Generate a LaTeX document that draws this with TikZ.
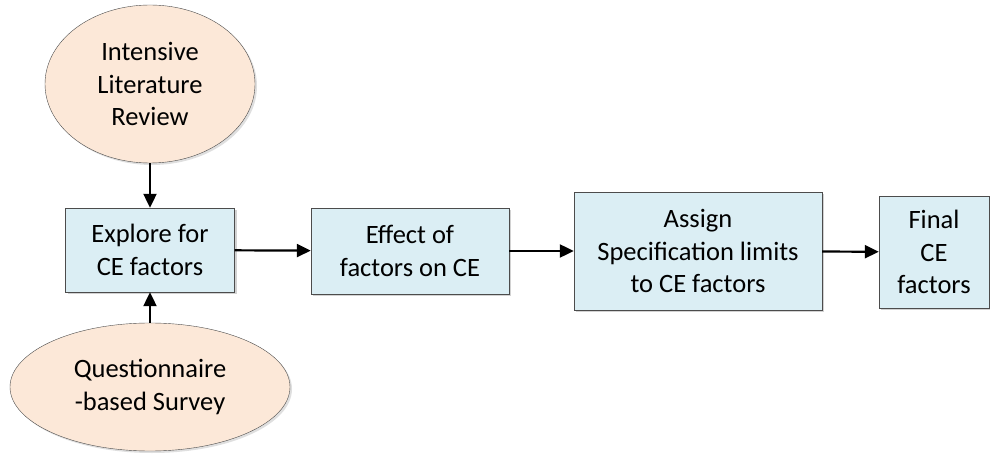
\documentclass[tikz,border=0pt]{standalone}
\usepackage{fontspec}
\setmainfont{Carlito}
\usetikzlibrary{arrows.meta, positioning, shapes.geometric, shadows}

\definecolor{boxblue}{RGB}{219,238,244}
\definecolor{srcpeach}{RGB}{252,232,216}

\begin{document}
\begin{tikzpicture}[
  x=1pt, y=-1pt,
  stepbox/.style={rectangle, draw=black!70, fill=boxblue, align=center,
                  inner sep=0pt, font=\fontsize{26.5}{32.5}\selectfont,
                  drop shadow={shadow xshift=2pt, shadow yshift=-2pt, fill=black!35}},
  source/.style={ellipse, draw=black!70, fill=srcpeach, align=center,
                 inner sep=0pt, font=\fontsize{26.5}{32.5}\selectfont,
                 drop shadow={shadow xshift=2pt, shadow yshift=-2pt, fill=black!25}},
  flow/.style={-{Triangle[length=14pt, width=13pt]}, line width=2.2pt},
]
\useasboundingbox (0,0) rectangle (990,454);

% ---- sources ----
\node[source, minimum width=210pt, minimum height=158pt] (lit) at (150,84)
  {Intensive\\Literature\\Review};
\node[source, minimum width=280pt, minimum height=128pt] (survey) at (150,387)
  {Questionnaire\\-based Survey};

% ---- steps ----
\node[stepbox, minimum width=169pt, minimum height=84pt] (explore) at (150,250)
  {Explore for\\CE factors};
\node[stepbox, minimum width=198pt, minimum height=86pt] (effect) at (410,251)
  {Effect of\\factors on CE};
\node[stepbox, minimum width=248pt, minimum height=118pt] (assign) at (698,251)
  {Assign\\Specification limits\\to CE factors};
\node[stepbox, minimum width=110pt, minimum height=112pt] (final) at (934,252)
  {Final\\CE\\factors};

% ---- arrows ----
\draw[flow] (lit) -- (explore);
\draw[flow] (survey) -- (explore);
\draw[flow] (explore) -- (effect);
\draw[flow] (effect) -- (assign);
\draw[flow] (assign) -- (final);

\end{tikzpicture}
\end{document}
